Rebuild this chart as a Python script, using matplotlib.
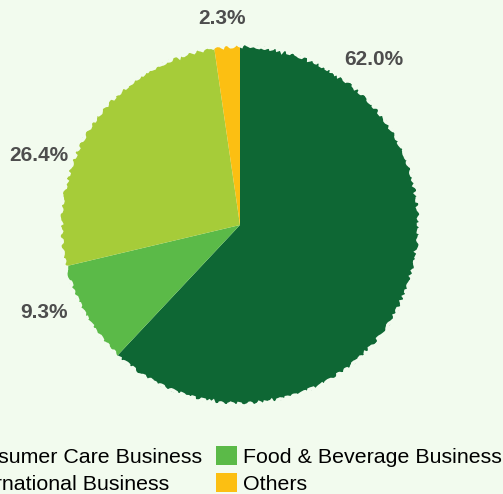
import numpy as np
import matplotlib.pyplot as plt
from matplotlib.patches import Patch, Circle

# data
labels = ['Consumer Care Business', 'Food & Beverage Business',
          'International Business', 'Others']
shares = [62.0, 9.3, 26.4, 2.3]
colors = ['#0e6734', '#5bba48', '#a6cc39', '#fcbf12']

# where the percentage labels sit (angle in degrees, radius in pie units)
label_angles = [51, 204, 161, 95]
label_radius = [1.18, 1.19, 1.18, 1.15]

plt.rcParams['font.family'] = ['Liberation Sans', 'DejaVu Sans']
bg = '#f2fbee'

fig = plt.figure(figsize=(5.03, 4.94), dpi=100, facecolor=bg)
ax = fig.add_axes([60 / 503, 89 / 494, 360 / 503, 360 / 494])
ax.set_facecolor(bg)

wedges, _ = ax.pie(shares, colors=colors, startangle=90, counterclock=False,
                   radius=1, wedgeprops=dict(linewidth=0))

# rough, hand drawn look on the outer rim only
rim = Circle((0, 0), 1.0, fill=False, edgecolor=bg, linewidth=2.5, clip_on=False)
rim.set_sketch_params(scale=1.5, length=12, randomness=5)
ax.add_patch(rim)

for val, ang, r in zip(shares, label_angles, label_radius):
    t = np.deg2rad(ang)
    ax.text(r * np.cos(t), r * np.sin(t), f'{val:.1f}%', ha='center', va='center',
            fontsize=15, fontweight='bold', color='#4d4d4d', clip_on=False)

ax.set_xlim(-1, 1)
ax.set_ylim(-1, 1)
ax.set_aspect('equal')
ax.axis('off')

# legend fills row by row in the reference, matplotlib fills by column
order = [0, 2, 1, 3]
handles = [Patch(facecolor=colors[i], edgecolor='none') for i in order]
fig.legend(handles, [labels[i] for i in order], ncol=2, loc='center',
           bbox_to_anchor=(217 / 503, 24 / 494),
           frameon=False, fontsize=15.4, handlelength=1.0, handleheight=1.0,
           handletextpad=0.25, columnspacing=0.65, labelspacing=0.28)

fig.savefig('out.png', dpi=100, facecolor=bg)
